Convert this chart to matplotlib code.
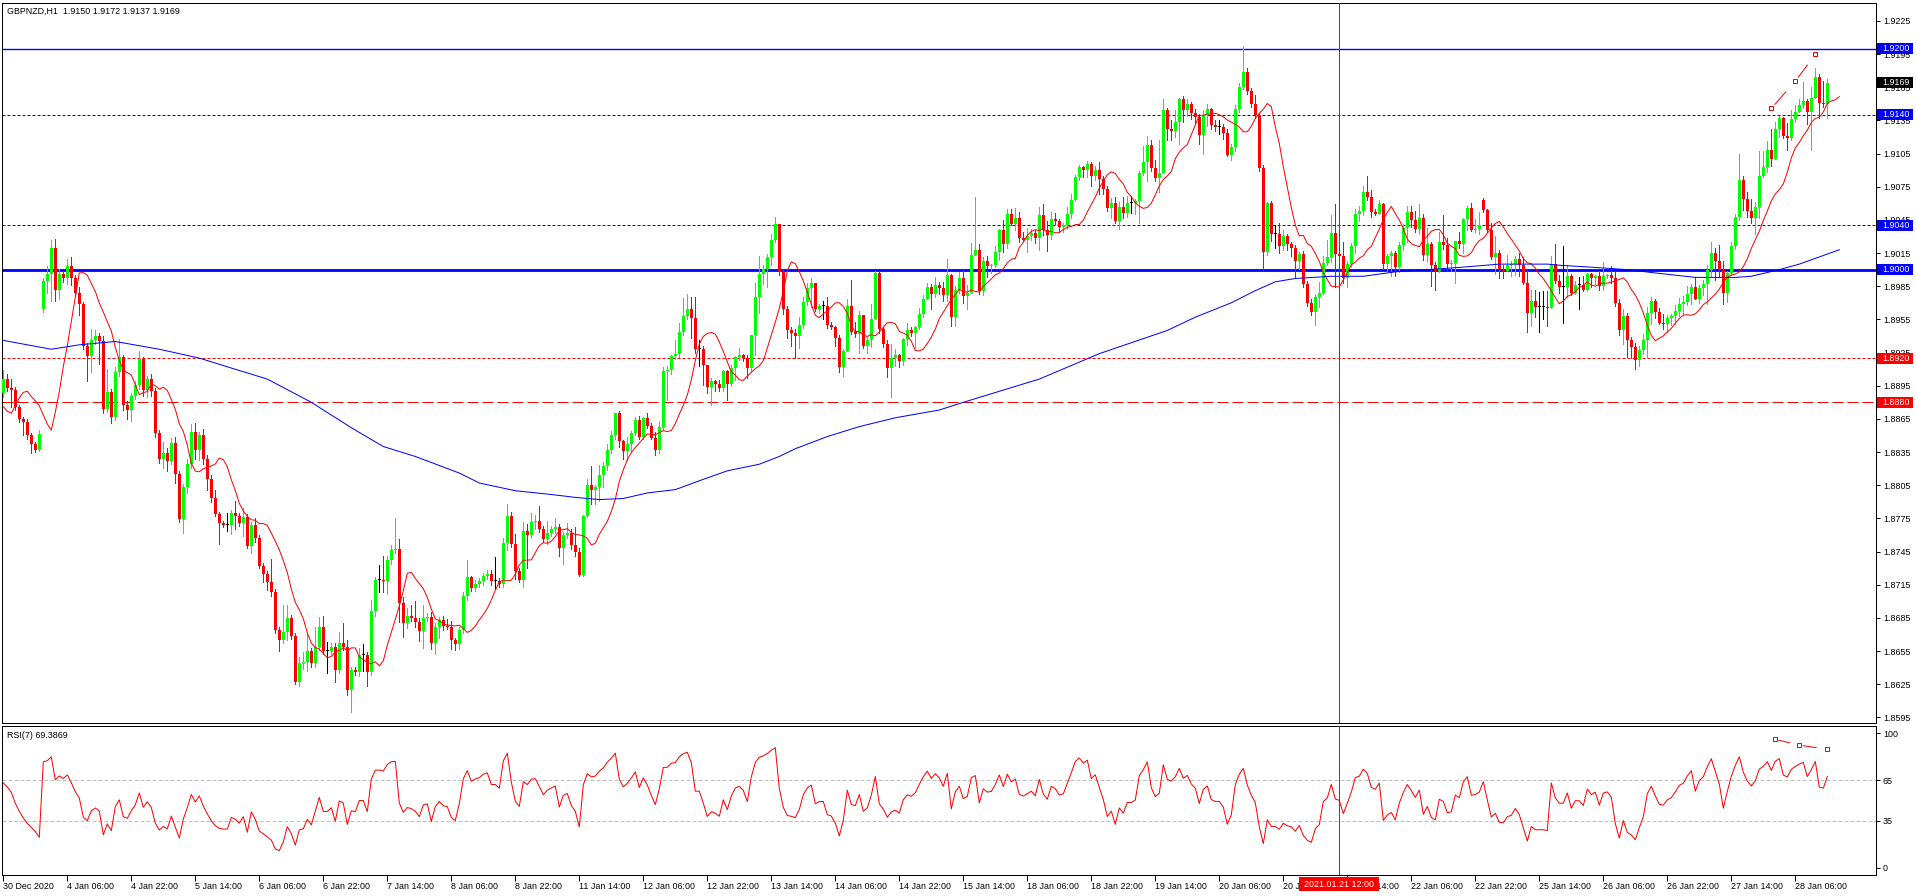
import numpy as np
import matplotlib.pyplot as plt
from matplotlib.patches import Rectangle
from matplotlib import transforms

plt.rcParams['font.family'] = ['Liberation Sans', 'DejaVu Sans']

W, H, DPI = 1916, 896, 100

# --- GBPNZD H1, closes in pips (8901 -> 1.8901) ---
closes = [
    8901, 8893, 8891, 8876, 8865, 8862, 8850, 8842, 8837, 8851,
    8990, 8996, 9020, 8982, 8996, 8992, 9003, 8992, 8979, 8969,
    8931, 8922, 8936, 8940, 8935, 8874, 8889, 8867, 8907, 8921,
    8878, 8873, 8886, 8896, 8919, 8891, 8901, 8890, 8852, 8829,
    8834, 8827, 8843, 8815, 8774, 8803, 8824, 8853, 8837, 8850,
    8829, 8811, 8793, 8779, 8771, 8769, 8769, 8780, 8777, 8771,
    8776, 8750, 8769, 8757, 8732, 8725, 8717, 8708, 8674, 8665,
    8672, 8685, 8669, 8627, 8644, 8645, 8655, 8644, 8659, 8677,
    8655, 8655, 8659, 8638, 8662, 8659, 8620, 8638, 8636, 8651,
    8651, 8636, 8691, 8719, 8719, 8718, 8737, 8746, 8747, 8698,
    8680, 8687, 8685, 8681, 8673, 8685, 8686, 8662, 8677, 8683,
    8678, 8677, 8665, 8661, 8674, 8705, 8722, 8712, 8716, 8718,
    8723, 8725, 8718, 8718, 8716, 8753, 8777, 8752, 8727, 8719,
    8764, 8760, 8772, 8773, 8765, 8756, 8762, 8765, 8767, 8748,
    8760, 8762, 8751, 8745, 8724, 8777, 8805, 8801, 8803, 8814,
    8822, 8837, 8850, 8870, 8845, 8836, 8842, 8852, 8864, 8849,
    8866, 8859, 8848, 8837, 8858, 8908, 8909, 8922, 8924, 8944,
    8958, 8964, 8956, 8928, 8928, 8914, 8894, 8899, 8897, 8893,
    8908, 8897, 8911, 8921, 8923, 8920, 8911, 8941, 8975, 8996,
    9001, 9011, 9027, 9041, 8998, 8964, 8945, 8943, 8940, 8950,
    8971, 8983, 8988, 8964, 8967, 8967, 8950, 8948, 8938, 8912,
    8926, 8967, 8944, 8942, 8959, 8931, 8936, 8955, 8997, 8946,
    8933, 8911, 8920, 8923, 8917, 8937, 8945, 8943, 8948, 8960,
    8973, 8984, 8978, 8986, 8983, 8977, 8995, 8957, 8982, 8992,
    8976, 8979, 9013, 9018, 8981, 9008, 9003, 9004, 9016, 9036,
    9023, 9050, 9041, 9047, 9029, 9027, 9030, 9033, 9029, 9049,
    9036, 9031, 9046, 9044, 9039, 9040, 9050, 9063, 9084, 9093,
    9090, 9096, 9085, 9090, 9082, 9073, 9056, 9060, 9044, 9057,
    9051, 9060, 9060, 9062, 9087, 9097, 9113, 9092, 9083, 9087,
    9144, 9127, 9125, 9134, 9154, 9144, 9150, 9142, 9138, 9122,
    9140, 9145, 9131, 9129, 9129, 9124, 9104, 9111, 9145, 9165,
    9179, 9162, 9150, 9140, 9092, 9016, 9060, 9032, 9032, 9021,
    9030, 9023, 9020, 9008, 9014, 8987, 8970, 8962, 8975, 8979,
    9006, 9011, 9033, 9014, 9012, 8992, 9005, 9021, 9050, 9053,
    9070, 9066, 9052, 9050, 9059, 9005, 9012, 9015, 9002, 9022,
    9038, 9052, 9045, 9037, 9047, 9013, 9023, 9004, 8999, 9025,
    9022, 9005, 9006, 9026, 9023, 9046, 9056, 9036, 9037, 9040,
    9054, 9036, 9011, 9015, 9000, 8999, 9004, 9005, 9010, 9004,
    8988, 8961, 8972, 8966, 8966, 8966, 8965, 9005, 8990, 8984,
    8984, 8994, 8979, 8986, 8986, 8982, 8996, 8992, 8994, 8985,
    8994, 8995, 8992, 8970, 8945, 8958, 8936, 8930, 8918, 8927,
    8936, 8961, 8972, 8962, 8952, 8951, 8956, 8958, 8963, 8969,
    8971, 8978, 8984, 8973, 8983, 8987, 9000, 9015, 9008, 9000,
    8979, 8997, 9021, 9048, 9081, 9064, 9053, 9047, 9057, 9085,
    9093, 9108, 9100, 9127, 9137, 9121, 9119, 9136, 9143, 9149,
    9153, 9143, 9155, 9174, 9151, 9150, 9169,
]
# bars whose open is not the previous close (gaps)
open_gaps = {0: 8888, 10: 8964, 370: 9063}

# wick lengths in pips above / below the body
upper_wick = [
    8, 5, 8, 3, 2, 2, 3, 2, 2, 4, 2, 7, 7, 8, 5, 3, 7, 8, 3, 5,
    2, 3, 10, 5, 3, 5, 21, 3, 5, 16, 2, 3, 2, 3, 7, 2, 3, 5, 3, 3,
    10, 5, 5, 6, 3, 3, 5, 7, 8, 3, 6, 3, 3, 8, 2, 2, 11, 3, 11, 3,
    8, 3, 3, 6, 3, 3, 2, 21, 3, 3, 25, 12, 3, 2, 6, 9, 16, 3, 18, 9,
    10, 8, 3, 3, 10, 18, 6, 3, 3, 7, 10, 3, 10, 3, 14, 22, 4, 5, 28, 9,
    6, 7, 10, 15, 4, 12, 3, 4, 3, 3, 4, 6, 5, 2, 3, 3, 15,
    1, 3, 3, 3, 3, 3, 22, 3, 4, 11, 4, 9, 3, 8, 6, 8, 5, 13, 3, 11,
    3, 8, 3, 3, 9, 3, 16, 3, 1, 6, 17, 2, 9, 4, 5, 4, 0, 2, 1, 7,
    2, 3, 4, 1, 4, 2, 5, 5, 4, 4, 1, 12, 8, 16, 14, 11, 19, 8, 3, 0,
    3, 1, 3, 1, 1, 3, 1, 6, 1, 3, 0, 13, 16, 3, 3, 5, 7, 0, 3, 3,
    3, 3, 7, 4, 5, 4, 0, 2, 5, 8, 3, 1, 3, 2, 6, 24, 9, 4, 0, 3,
    14, 2, 2, 2, 3, 13, 5, 1, 1, 7, 3, 1, 5, 4, 4, 3, 7, 3,
    6, 15, 1, 3, 6, 8, 7, 11, 48, 5, 3, 4, 1, 5, 1, 9, 5, 5, 9, 5,
    5, 8, 4, 3, 8, 10, 8, 6, 5, 2, 2, 7, 5, 2, 2, 1, 2, 1, 4, 7,
    3, 3, 5, 6, 4, 9, 7, 7, 2, 2, 15, 8, 4, 7, 30, 10, 2, 8, 10, 1,
    3, 4, 2, 3, 3, 4, 5, 1, 4, 6, 3, 3, 3, 4, 4, 23, 3, 2, 8, 2,
    3, 1, 2, 8, 10, 6, 2, 2, 2, 2, 3, 3, 3, 3, 10, 6, 16, 16, 26, 3,
    13, 3, 3, 5, 5, 6, 15, 6, 3, 4, 1, 2, 2, 2, 3, 3, 6,
    6, 8, 12, 3, 15, 2, 3, 9, 24, 7, 3, 0, 8, 1, 2, 4, 9, 12, 2, 1,
    6, 15, 3, 4, 9, 3, 2, 5, 7, 13, 10, 10, 14, 15, 15, 7, 18, 5, 37, 10,
    2, 4, 7, 8, 1, 1, 1, 5, 13, 1, 8, 6, 3, 6, 3, 3, 4, 4, 6, 5,
    3, 1, 3, 8, 3, 2, 5, 5, 5, 7, 3, 9, 3, 4, 4, 10, 5, 14, 8, 2,
    4, 2, 24, 4, 6, 11, 4, 22, 14, 8, 19, 7, 2, 1, 12, 8, 6, 5, 17, 1,
    10, 8, 3, 20, 3,
]
lower_wick = [
    3, 3, 15, 3, 3, 12, 3, 8, 2, 1, 2, 11, 24, 10, 9, 3, 5, 6, 3, 10,
    3, 23, 15, 3, 20, 4, 3, 6, 3, 3, 5, 8, 10, 3, 4, 5, 6, 4, 3, 4,
    8, 9, 3, 8, 2, 12, 5, 3, 8, 9, 5, 10, 3, 2, 19, 2, 5, 8, 12, 3,
    12, 2, 6, 3, 2, 8, 7, 3, 3, 10, 3, 7, 3, 2, 4, 5, 8, 3, 3, 3,
    3, 20, 3, 11, 3, 3, 5, 20, 3, 4, 14, 13, 3, 4, 11, 10, 11, 3, 2, 17,
    12, 4, 3, 4, 9, 15, 3, 5, 10, 10, 4, 2, 8, 5, 4, 3, 4,
    3, 3, 3, 3, 3, 3, 7, 3, 3, 7, 3, 7, 2, 6, 30, 3, 7, 2, 2, 4,
    3, 3, 7, 14, 3, 4, 4, 1, 1, 1, 13, 13, 12, 11, 3, 3, 3, 5, 7, 8,
    7, 2, 2, 2, 2, 1, 5, 3, 3, 26, 3, 3, 3, 3, 3, 18, 3, 15, 18, 6,
    16, 7, 3, 3, 15, 2, 11, 3, 3, 9, 3, 18, 14, 9, 17, 7, 2, 3, 4, 7,
    12, 20, 11, 3, 3, 17, 1, 3, 12, 3, 2, 7, 5, 8, 0, 2, 3, 17, 2, 6,
    6, 0, 3, 3, 8, 26, 7, 5, 3, 5, 3, 14, 2, 3, 0, 14, 3, 5,
    5, 5, 8, 8, 3, 6, 12, 0, 0, 3, 4, 10, 6, 2, 7, 7, 3, 1, 5, 4,
    1, 11, 3, 5, 11, 5, 14, 3, 3, 5, 5, 3, 3, 1, 3, 6, 6, 9, 4, 14,
    5, 3, 9, 2, 7, 4, 3, 9, 10, 20, 1, 17, 3, 3, 13, 0, 10, 8, 5, 20,
    10, 5, 6, 5, 8, 17, 10, 4, 4, 6, 6, 1, 5, 4, 2, 2, 3, 3, 3, 3,
    16, 3, 6, 12, 6, 3, 5, 8, 15, 7, 3, 3, 3, 12, 9, 1, 2, 4, 30, 3,
    4, 8, 2, 6, 6, 4, 3, 4, 1, 0, 4, 7, 18, 8, 4, 4, 13,
    6, 3, 5, 4, 5, 19, 17, 1, 3, 5, 6, 18, 3, 8, 10, 1, 2, 5, 2, 2,
    1, 15, 8, 7, 0, 10, 10, 10, 1, 17, 12, 9, 22, 11, 16, 0, 2, 5, 32, 9,
    2, 1, 22, 1, 1, 8, 5, 3, 3, 2, 4, 3, 4, 12, 15, 10, 8, 5, 3, 16,
    10, 6, 1, 5, 7, 6, 7, 5, 9, 3, 9, 0, 3, 6, 18, 6, 17, 7, 10, 8,
    2, 2, 3, 10, 5, 5, 15, 10, 1, 5, 6, 0, 7, 2, 11, 2, 2, 0, 3, 11,
    35, 0, 14, 3, 13,
]

# long moving average (blue) as (bar, pips)
blue_ma_bars = [0, 12, 19, 28, 39, 49, 57, 66, 77, 87, 95, 103, 114, 119, 128,
                136, 143, 149, 155, 161, 168, 174, 181, 189, 194, 198, 206, 214,
                223, 234, 240, 259, 274, 291, 298, 307, 313, 318, 323, 332, 340,
                348, 364, 374, 386, 389, 398, 406, 413, 423, 433, 437, 444, 449, 459]
blue_ma_vals = [8936, 8928, 8932, 8935, 8928, 8920, 8911, 8901, 8880, 8857, 8840,
                8831, 8816, 8807, 8800, 8797, 8794, 8792, 8793, 8798, 8801, 8809,
                8818, 8824, 8831, 8838, 8849, 8858, 8866, 8873, 8880, 8901, 8924,
                8945, 8957, 8970, 8981, 8989, 8992, 8994, 8994, 8998, 9002, 9005,
                9005, 9004, 9002, 9000, 8997, 8993, 8993, 8994, 9000, 9005, 9018]

# first points of the short MA and of RSI (their history is off the chart)
red_ma_head = [8876, 8872, 8870, 8877, 8884, 8889, 8890]
rsi_head = [63, 60, 56, 48, 42, 37, 33, 30, 27]

level_prices = [1.9200, 1.9140, 1.9040, 1.9000, 1.8920, 1.8880]

time_labels = ['30 Dec 2020', '4 Jan 06:00', '4 Jan 22:00', '5 Jan 14:00', '6 Jan 06:00',
               '6 Jan 22:00', '7 Jan 14:00', '8 Jan 06:00', '8 Jan 22:00', '11 Jan 14:00',
               '12 Jan 06:00', '12 Jan 22:00', '13 Jan 14:00', '14 Jan 06:00', '14 Jan 22:00',
               '15 Jan 14:00', '18 Jan 06:00', '18 Jan 22:00', '19 Jan 14:00', '20 Jan 06:00',
               '20 Jan 22:00', '21 Jan 14:00', '22 Jan 06:00', '22 Jan 22:00', '25 Jan 14:00',
               '26 Jan 06:00', '26 Jan 22:00', '27 Jan 14:00', '28 Jan 06:00']

cursor_bar = 334
cursor_label = '2021.01.21 12:00'

# divergence marks (squares) on price and on RSI
price_div_bars = [442, 448, 453]
price_div_vals = [1.91458, 1.91705, 1.91947]
rsi_div_bars = [443, 449, 456]
rsi_div_vals = [95.3, 91.0, 88.0]

header = 'GBPNZD,H1  1.9150 1.9172 1.9137 1.9169'
rsi_header = 'RSI(7) 69.3869'


def rsi(values, period=7):
    out = np.full(len(values), np.nan)
    diff = np.diff(values)
    gain = np.clip(diff, 0, None)
    loss = np.clip(-diff, 0, None)
    ag = al = 0.0
    for i in range(1, len(values)):
        if i <= period:
            ag = gain[:i].mean()
            al = loss[:i].mean()
        else:
            ag = (ag * (period - 1) + gain[i - 1]) / period
            al = (al * (period - 1) + loss[i - 1]) / period
        out[i] = 100.0 if al == 0 else 100 - 100 / (1 + ag / al)
    return out


c = np.array(closes)
n = len(c)
o = np.r_[c[0], c[:-1]].copy()
for k, v in open_gaps.items():
    o[k] = v
hi = np.maximum(o, c) + np.array(upper_wick)
lo = np.minimum(o, c) - np.array(lower_wick)
idx = np.arange(n)
colors = np.where(c > o, '#00FF00', np.where(c < o, '#FF0000', '#000000'))

fig = plt.figure(figsize=(W / DPI, H / DPI), dpi=DPI)


def box(l, t, r, b):
    return [l / W, 1 - b / H, (r - l) / W, (b - t) / H]


ax = fig.add_axes(box(2, 3, 1876, 723))
ax_r = fig.add_axes(box(2, 726, 1876, 875))
px = 0.72  # one pixel in points

for a in (ax, ax_r):
    for s in a.spines.values():
        s.set_linewidth(px)
    a.set_xlim(-0.325, 468.175)
    a.yaxis.tick_right()
    a.tick_params(axis='y', length=3, width=px, pad=2, labelsize=6.4)

ax.set_ylim(1.85899, 1.92412)
ax.set_xticks([])
yt = np.arange(1.8595, 1.9226, 0.003)
ax.set_yticks(yt)
ax.set_yticklabels(['%.4f' % v for v in yt])

# levels
ax.axhline(level_prices[0], color='#0000FF', lw=1.0)
ax.axhline(level_prices[1], color='#0000FF', lw=px, ls=(0, (3, 2)))
ax.axhline(level_prices[2], color='#0000FF', lw=px, ls=(0, (3, 2)))
ax.axhline(level_prices[3], color='#0000FF', lw=2.0)
ax.axhline(level_prices[4], color='#FF0000', lw=px, ls=(0, (3, 2)))
ax.axhline(level_prices[5], color='#FF0000', lw=px, ls=(0, (11, 4)))

# candles
ax.vlines(idx, 1 + lo / 1e4, 1 + hi / 1e4, colors=colors, lw=px, antialiased=False, zorder=3)
body_h = np.maximum(np.abs(c - o), 0.9) / 1e4
ax.bar(idx, body_h, bottom=1 + np.minimum(o, c) / 1e4, width=0.75, color=colors,
       linewidth=0, antialiased=False, zorder=4)

# moving averages (shifted 3 bars forward)
sma = np.array([c[max(0, i - 6):i + 1].mean() for i in range(n)])
red_x = np.r_[np.arange(len(red_ma_head)), idx[4:] + 3]
red_y = np.r_[red_ma_head, sma[4:]]
ax.plot(red_x, 1 + red_y / 1e4, color='#FF0000', lw=px, zorder=5)
ax.plot(blue_ma_bars, 1 + np.array(blue_ma_vals) / 1e4, color='#0000FF', lw=px, zorder=5)


def div_marks(a, bars, vals):
    a.plot(bars, vals, ls='none', marker='s', ms=3.2, mfc='white', mec='#FF0000', mew=px, zorder=6)
    for k in range(len(bars) - 1):
        x0, y0, x1, y1 = bars[k], vals[k], bars[k + 1], vals[k + 1]
        a.plot([x0 + 0.15 * (x1 - x0), x0 + 0.6 * (x1 - x0)],
               [y0 + 0.15 * (y1 - y0), y0 + 0.6 * (y1 - y0)], color='#FF0000', lw=px, zorder=6)


div_marks(ax, price_div_bars, price_div_vals)

# RSI panel
rv = rsi(c.astype(float))
rv[:len(rsi_head)] = rsi_head
ax_r.set_ylim(-5.2, 105.2)
ax_r.set_yticks([0, 35, 65, 100])
ax_r.set_yticklabels(['0', '35', '65', '100'])
for lv in (35, 65):
    ax_r.axhline(lv, color='#C0C0C0', lw=px, ls=(0, (4, 2)))
ax_r.plot(idx, rv, color='#FF0000', lw=px)
div_marks(ax_r, rsi_div_bars, rsi_div_vals)

xt = np.arange(len(time_labels)) * 16
ax_r.set_xticks(xt)
ax_r.set_xticklabels(time_labels)
ax_r.tick_params(axis='x', length=4, width=px, pad=1, labelsize=6.4)
for lb in ax_r.get_xticklabels():
    lb.set_horizontalalignment('left')

for a in (ax, ax_r):
    a.axvline(cursor_bar, color='#FF0000', lw=px, zorder=7)

# price tags on the right scale
tr = transforms.blended_transform_factory(fig.transFigure, ax.transData)
ppx = (1.92412 - 1.85899) / 720
tags = [(level_prices[0], '#0000FF'), (1 + c[-1] / 1e4, '#000000'),
        (level_prices[1], '#0000FF'), (level_prices[2], '#0000FF'),
        (level_prices[3], '#0000FF'), (level_prices[4], '#FF0000'),
        (level_prices[5], '#FF0000')]
for price, col in tags:
    ax.add_patch(Rectangle((1877 / W, price - 5.5 * ppx), 36 / W, 11 * ppx, transform=tr,
                           facecolor=col, edgecolor='none', clip_on=False, zorder=10))
    ax.text(1882 / W, price, '%.4f' % price, transform=tr, color='white', fontsize=6.4,
            va='center', ha='left', clip_on=False, zorder=11)

# cursor time tag on the time scale
trx = transforms.blended_transform_factory(ax_r.transData, fig.transFigure)
ax_r.add_patch(Rectangle((cursor_bar - 10, 1 - 891 / H), 20, 14 / H, transform=trx,
                         facecolor='#FF0000', edgecolor='none', clip_on=False, zorder=10))
ax_r.text(cursor_bar, 1 - 884 / H, cursor_label, transform=trx, color='white', fontsize=6.4,
          ha='center', va='center', clip_on=False, zorder=11)

fig.text(7 / W, 1 - 11 / H, header, fontsize=6.4, va='center', ha='left')
fig.text(7 / W, 1 - 736 / H, rsi_header, fontsize=6.4, va='center', ha='left')

fig.savefig('out.png', dpi=DPI)
